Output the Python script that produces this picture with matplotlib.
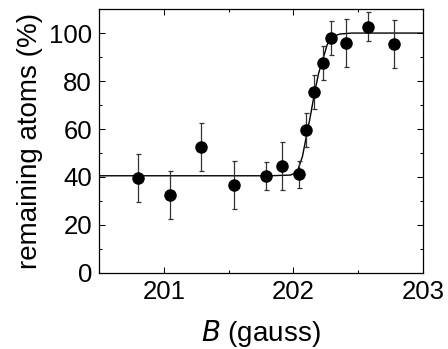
import matplotlib
matplotlib.use('Agg')
import matplotlib.pyplot as plt
from matplotlib.ticker import MultipleLocator

plt.rcParams['font.family'] = ['Liberation Sans', 'DejaVu Sans']

# measured points
field = [200.80, 201.05, 201.29, 201.54, 201.79, 201.915, 202.04, 202.10,
         202.16, 202.23, 202.29, 202.41, 202.58, 202.78]
remaining = [39.5, 32.3, 52.6, 36.5, 40.4, 44.7, 41.1, 59.7,
             75.5, 87.6, 98.0, 96.0, 102.7, 95.5]
err = [10, 10, 10, 10, 5.8, 10, 5.7, 7, 7, 7, 7, 10, 6, 10]

# fit curve
fit_x = [200.5, 201.82, 201.98, 202.03, 202.07, 202.10, 202.13, 202.165,
         202.195, 202.23, 202.26, 202.30, 202.36, 202.45, 203.0]
fit_y = [40.5, 40.5, 40.8, 42.2, 48.5, 56.8, 65.0, 75.5,
         83.2, 89.4, 95.0, 98.5, 99.6, 100.0, 100.0]

fig = plt.figure(figsize=(4.48, 3.49), dpi=100)
ax = fig.add_axes([0.221, 0.218, 0.723, 0.756])

ax.plot(fit_x, fit_y, color='black', lw=1.0, zorder=2)
ax.errorbar(field, remaining, yerr=err, fmt='o', color='black', ms=8,
            ecolor='#333333', elinewidth=0.9, capsize=1.8, capthick=0.9, zorder=3)

ax.set_xlim(200.5, 203)
ax.set_ylim(0, 110)
ax.xaxis.set_major_locator(MultipleLocator(1))
ax.xaxis.set_minor_locator(MultipleLocator(0.5))
ax.yaxis.set_major_locator(MultipleLocator(20))
ax.yaxis.set_minor_locator(MultipleLocator(10))
ax.tick_params(which='both', direction='in', top=True, right=True,
               labelsize=18.5, width=0.75)
ax.tick_params(which='major', length=4, pad=5)
ax.tick_params(which='minor', length=2.5)
for s in ax.spines.values():
    s.set_linewidth(0.9)

ax.set_xlabel(r'$\mathit{B}$ (gauss)', fontsize=20, labelpad=10)
ax.set_ylabel('remaining atoms (%)', fontsize=20, labelpad=4)

plt.savefig('out.png')
